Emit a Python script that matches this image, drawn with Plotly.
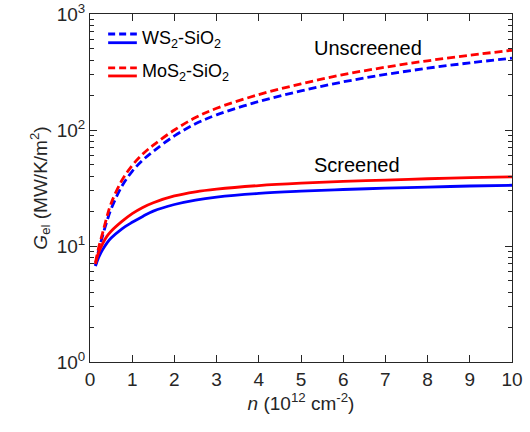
import plotly.graph_objects as go

# carrier density n (1e12 cm^-2)
n = [0.13, 0.2, 0.3, 0.4, 0.5, 0.75, 1, 1.25, 1.5, 2, 2.5, 3, 4, 5, 6, 7, 8, 9, 10]

# G_el (MW/K/m^2)
ws2_unscreened = [6.8, 9.0, 12.3, 16.3, 20.8, 32.5, 44, 55, 65.5, 89, 113, 135, 176, 217, 260, 301, 341, 379, 416]
mos2_unscreened = [7.2, 9.5, 13.0, 17.8, 23.3, 36.5, 49.5, 62, 74, 100, 128, 154, 202, 250, 300, 348, 395, 441, 487]
ws2_screened = [6.7, 7.9, 9.3, 10.6, 11.7, 14.0, 16.0, 18.0, 20.0, 22.8, 24.9, 26.4, 28.4, 29.7, 30.7, 31.5, 32.2, 32.9, 33.4]
mos2_screened = [7.0, 8.7, 10.5, 12.1, 13.4, 16.2, 19.0, 21.5, 23.6, 27.0, 29.3, 30.9, 33.2, 34.8, 36.0, 37.0, 38.0, 38.8, 39.5]

BLUE = "#0000FF"
RED = "#FF0000"
AX = "#262626"
FONT = "Liberation Sans, Arial, sans-serif"
DASH = "8px,4px"

fig = go.Figure()
fig.add_trace(go.Scatter(x=n, y=ws2_unscreened, mode="lines", line=dict(color=BLUE, width=2.8, dash=DASH, shape="spline")))
fig.add_trace(go.Scatter(x=n, y=mos2_unscreened, mode="lines", line=dict(color=RED, width=2.8, dash=DASH, shape="spline")))
fig.add_trace(go.Scatter(x=n, y=ws2_screened, mode="lines", line=dict(color=BLUE, width=2.8, shape="spline")))
fig.add_trace(go.Scatter(x=n, y=mos2_screened, mode="lines", line=dict(color=RED, width=2.8, shape="spline")))
# invisible copy so the right/top mirror axes get drawn with their minor ticks
fig.add_trace(go.Scatter(x=n, y=mos2_screened, mode="lines", xaxis="x2", yaxis="y2",
                         opacity=0, hoverinfo="skip", line=dict(width=0)))

# hand-drawn legend (dashed over solid, like the original)
legend_items = [("WS<sub>2</sub>-SiO<sub>2</sub>", BLUE, 0.9425, 0.9175, 0.927),
                ("MoS<sub>2</sub>-SiO<sub>2</sub>", RED, 0.845, 0.822, 0.832)]
for label, col, yd, ys, yt in legend_items:
    fig.add_shape(type="line", xref="paper", yref="paper", x0=0.043, x1=0.111, y0=yd, y1=yd,
                  line=dict(color=col, width=2.8, dash="7px,4px"))
    fig.add_shape(type="line", xref="paper", yref="paper", x0=0.043, x1=0.111, y0=ys, y1=ys,
                  line=dict(color=col, width=2.8))
    fig.add_annotation(text=label, xref="paper", yref="paper", x=0.118, y=yt, xanchor="left",
                       yanchor="middle", showarrow=False, font=dict(size=18, color="black", family=FONT))

fig.add_annotation(text="Unscreened", xref="paper", yref="paper", x=0.527, y=0.902, xanchor="left",
                   yanchor="middle", showarrow=False, font=dict(size=20, color="black", family=FONT))
fig.add_annotation(text="Screened", xref="paper", yref="paper", x=0.527, y=0.566, xanchor="left",
                   yanchor="middle", showarrow=False, font=dict(size=20, color="black", family=FONT))

minor_y = [m * 10 ** k for k in range(3) for m in range(2, 10)]

common = dict(
    ticks="inside",
    ticklen=7,
    tickcolor=AX,
    showline=True,
    linecolor=AX,
    linewidth=1,
    showgrid=False,
    zeroline=False,
    automargin=False,
    ticklabeloverflow="allow",
)

fig.update_layout(
    width=530,
    height=432,
    margin=dict(l=90, r=18, t=14, b=70),
    paper_bgcolor="white",
    plot_bgcolor="white",
    showlegend=False,
    font=dict(family=FONT, size=19, color=AX),
    xaxis=dict(
        range=[0, 10],
        tickvals=list(range(11)),
        tickfont=dict(size=19),
        title=dict(text="<i>n</i> (10<sup>12</sup> cm<sup>-2</sup>)", font=dict(size=19), standoff=6),
        **common,
    ),
    xaxis2=dict(
        range=[0, 10],
        tickvals=list(range(11)),
        overlaying="x",
        side="top",
        anchor="y",
        showticklabels=False,
        **common,
    ),
    yaxis=dict(
        type="log",
        range=[0, 3],
        tickvals=[1, 10, 100, 1000],
        ticktext=["10<sup>0</sup>", "10<sup>1</sup>", "10<sup>2</sup>", "10<sup>3</sup>"],
        tickfont=dict(size=19),
        minor=dict(tickvals=minor_y, ticks="inside", ticklen=4, tickcolor=AX, showgrid=False),
        title=dict(text="<i>G</i><sub>el</sub> (MW/K/m<sup>2</sup>)", font=dict(size=19), standoff=4),
        **common,
    ),
    yaxis2=dict(
        type="log",
        range=[0, 3],
        tickvals=[1, 10, 100, 1000],
        overlaying="y",
        side="right",
        anchor="x",
        showticklabels=False,
        minor=dict(tickvals=minor_y, ticks="inside", ticklen=4, tickcolor=AX, showgrid=False),
        **common,
    ),
)

# drop the default 8px body margin so the figure fills the window
fig.write_html("out.html", config={"displayModeBar": False},
               post_script="document.body.style.margin='0';")
